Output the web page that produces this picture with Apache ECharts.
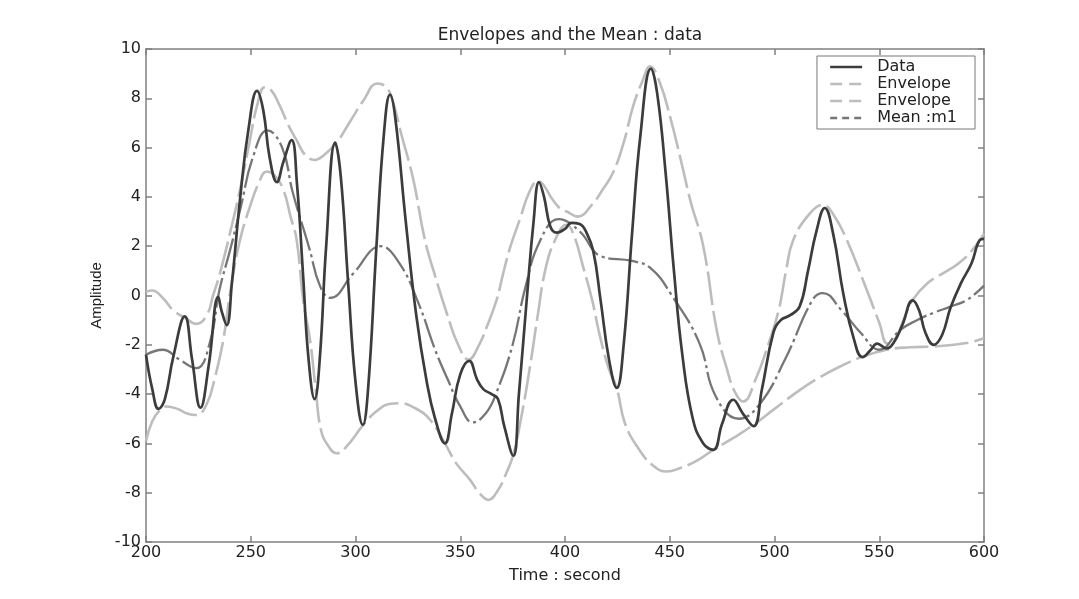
<!DOCTYPE html>
<html>
<head>
<meta charset="utf-8">
<script src="https://cdn.jsdelivr.net/npm/echarts@6/dist/echarts.min.js"></script>
<style>
  html, body { margin: 0; padding: 0; background: #fff; }
  #chart { width: 1079px; height: 599px; }
</style>
</head>
<body>
<div id="chart"></div>
<script>
// time (s) and amplitude
const dataT = [200, 203, 206, 209, 213, 218.5, 222, 226, 230, 234.5, 236, 238.5, 241, 245, 249, 253, 256, 259, 262.5, 265.5, 269.5, 272, 275, 277.5, 280.5, 283, 286, 290.3, 293, 296.5, 300, 303.5, 306, 310, 313.5, 316.5, 319, 324, 329, 334, 338, 342.7, 346, 350, 354.3, 358, 361, 365, 368, 371, 375.3, 378, 381.7, 385, 387.6, 390, 393, 396, 400, 403, 407, 410, 413.5, 417, 421, 424.7, 428, 432, 436, 441, 444, 448, 452, 456, 461, 466, 470.8, 475, 480.3, 485, 490, 494, 499.5, 503, 507.5, 512, 516, 520, 524, 528, 533, 538, 542, 546, 549, 553.5, 557, 561, 566, 569, 572, 576, 580, 584, 589, 594, 598, 600];
const dataV = [-2.4, -3.8, -4.6, -4.2, -2.5, -0.85, -2.6, -4.55, -2.8, -0.05, -0.6, -1.2, 0.5, 4.0, 6.8, 8.3, 7.5, 5.6, 4.6, 5.4, 6.3, 4.6, 0.8, -2.5, -4.2, -2.5, 2.0, 6.2, 4.8, 0.5, -3.5, -5.25, -3.8, 2.0, 6.5, 8.15, 7.2, 3.0, -0.8, -3.5, -5.0, -6.0, -4.8, -3.2, -2.65, -3.4, -3.8, -4.0, -4.2, -5.3, -6.5, -4.0, -0.2, 3.0, 4.6, 4.0, 2.8, 2.55, 2.7, 2.95, 2.9, 2.6, 1.8, -0.2, -2.6, -3.75, -2.0, 2.5, 6.5, 9.2, 8.2, 5.0, 1.0, -2.4, -5.0, -6.0, -6.26, -5.2, -4.23, -4.8, -5.3, -3.8, -1.5, -1.0, -0.8, -0.45, 1.0, 2.6, 3.55, 2.5, 0.0, -1.8, -2.5, -2.2, -1.95, -2.15, -1.9, -1.2, -0.2, -0.6, -1.5, -2.0, -1.6, -0.5, 0.5, 1.3, 2.25, 2.3];

const upperT = [200, 203, 208, 213, 218.5, 224, 229, 232, 235.3, 240, 244.9, 249.6, 253, 256.7, 260, 264, 268, 271.9, 276, 280.5, 285, 291, 297, 303.7, 310.5, 314, 317, 322, 327.6, 333, 338, 343.5, 349, 354, 359, 363, 367.4, 370.5, 374, 378.5, 383, 387.3, 390, 394, 398, 401, 406, 413, 418, 423, 428, 432.6, 437, 440.6, 445.4, 450, 455, 460, 466, 472.4, 477, 481, 485, 491, 497, 502, 505.5, 509, 517, 523, 528, 534.5, 544, 550, 554, 558, 562, 566, 573, 580.6, 587, 593, 600];
const upperV = [0.15, 0.2, -0.1, -0.6, -0.9, -1.15, -0.8, 0, 0.9, 2.5, 4.3, 6.3, 7.7, 8.45, 8.3, 7.67, 6.9, 6.3, 5.7, 5.5, 5.7, 6.2, 7.0, 7.9, 8.6, 8.5, 8.1, 6.5, 4.7, 2.3, 0.8, -0.7, -2.0, -2.6, -2.0, -1.2, -0.17, 0.9, 2.0, 3.1, 4.2, 4.65, 4.45, 3.9, 3.5, 3.4, 3.2, 3.7, 4.3, 5.0, 6.2, 7.7, 8.7, 9.3, 8.6, 7.3, 5.6, 3.8, 2.0, -1.4, -2.9, -3.9, -4.3, -3.4, -2.0, -0.6, 1.0, 2.26, 3.34, 3.68, 3.3, 2.26, 0.23, -1.1, -1.95, -1.7, -0.9, -0.17, 0.5, 0.91, 1.25, 1.7, 2.5];

const lowerT = [200, 203, 206.7, 210, 215, 220, 224, 229, 233, 236.9, 240.5, 244.9, 249.6, 254, 257.6, 261, 265.5, 269, 271.9, 275, 278.3, 281, 283.5, 287, 291, 296, 303.7, 310, 316, 321, 328, 335.6, 342.7, 348, 354.7, 359, 363.4, 368, 372, 375.3, 379, 383.3, 387, 390.5, 395, 400.8, 404, 408.6, 413, 416.7, 421, 424.7, 428.6, 435, 442, 448.5, 455, 463, 470.8, 480, 489.9, 500, 512.2, 522, 531.3, 542.4, 553.6, 565, 575.8, 591.7, 600];
const lowerV = [-5.9, -5.1, -4.64, -4.5, -4.6, -4.8, -4.85, -4.4, -3.3, -1.8, 0.3, 2.26, 3.6, 4.6, 5.03, 4.9, 4.3, 3.2, 2.26, -0.17, -1.8, -3.8, -5.45, -6.1, -6.4, -6.1, -5.25, -4.7, -4.4, -4.37, -4.55, -5.04, -6.0, -6.8, -7.48, -8.0, -8.29, -7.9, -7.2, -6.47, -5.0, -2.88, -0.8, 1.0, 2.2, 2.87, 2.5, 1.18, -0.2, -1.66, -3.0, -3.76, -5.18, -6.2, -6.9, -7.14, -7.0, -6.7, -6.26, -5.8, -5.25, -4.6, -3.83, -3.3, -2.88, -2.47, -2.2, -2.1, -2.07, -1.93, -1.73];

const meanT = [200, 208, 216, 224, 230.5, 235, 240, 245, 251, 258, 265, 270, 278, 283, 288, 299, 312, 321, 330, 338, 344, 350, 356, 362, 367, 375, 381, 388, 397, 407, 417, 432, 441, 451, 464, 472, 483, 493, 505, 518, 523, 532, 541, 550, 560, 568, 576, 584, 592, 600];
const meanV = [-2.4, -2.2, -2.6, -2.95, -1.9, 0.2, 1.8, 3.5, 5.6, 6.7, 6.0, 4.2, 1.9, 0.4, -0.1, 0.9, 2.0, 1.3, -0.3, -2.2, -3.4, -4.5, -5.15, -4.8, -4.0, -2.0, 0.3, 2.2, 3.1, 2.6, 1.6, 1.4, 1.1, 0.0, -1.9, -4.1, -5.0, -4.4, -2.6, -0.2, 0.1, -0.6, -1.5, -2.2, -1.4, -1.0, -0.7, -0.45, -0.17, 0.4];

function pairs(ts, vs) {
  return ts.map((t, i) => [t, vs[i]]);
}

const chart = echarts.init(document.getElementById('chart'));
const font = 'DejaVu Sans, Liberation Sans, sans-serif';
const axisGray = '#808080';
const dataColor = '#3c3c3c';
const envColor = '#bdbdbd';
const meanColor = '#767676';

const tickAxis = {
  axisLine: { show: true, onZero: false, lineStyle: { color: axisGray, width: 1.5 } },
  axisTick: { show: true, inside: true, length: 6, lineStyle: { color: axisGray, width: 1.5 } },
  splitLine: { show: false }
};

const option = {
  backgroundColor: '#ffffff',
  animation: false,
  title: {
    text: 'Envelopes and the Mean : data',
    left: 565,
    top: 22,
    textAlign: 'center',
    textStyle: { fontFamily: font, fontSize: 17, fontWeight: 'normal', color: '#222' }
  },
  grid: { left: 146, right: 95, top: 49, bottom: 57 },
  legend: {
    right: 104,
    top: 56,
    orient: 'vertical',
    backgroundColor: '#fff',
    borderColor: '#777',
    borderWidth: 1,
    borderRadius: 0,
    padding: [3, 18, 3, 12],
    itemGap: 1,
    itemWidth: 32,
    itemHeight: 16,
    textStyle: { fontFamily: font, fontSize: 16, color: '#222', padding: [0, 0, 0, 10] },
    data: [
      { name: 'Data', itemStyle: { opacity: 0 }, lineStyle: { color: dataColor, width: 2.4, type: 'solid' } },
      { name: 'Envelope', itemStyle: { opacity: 0 }, lineStyle: { color: envColor, width: 2.4, type: [12, 7] } },
      { name: 'Envelope ', itemStyle: { opacity: 0 }, lineStyle: { color: envColor, width: 2.4, type: [12, 7] } },
      { name: 'Mean :m1', itemStyle: { opacity: 0 }, lineStyle: { color: meanColor, width: 2.4, type: [7, 5] } }
    ]
  },
  xAxis: [Object.assign({
    type: 'value',
    min: 200,
    max: 600,
    interval: 50,
    name: 'Time : second',
    nameLocation: 'middle',
    nameGap: 26,
    nameTextStyle: { fontFamily: font, fontSize: 16, color: '#222' },
    axisLabel: { fontFamily: font, fontSize: 16, color: '#222', margin: 3 }
  }, tickAxis), Object.assign({
    type: 'value',
    position: 'top',
    min: 200,
    max: 600,
    interval: 50,
    axisLabel: { show: false }
  }, tickAxis)],
  yAxis: [Object.assign({
    type: 'value',
    min: -10,
    max: 10,
    interval: 2,
    name: 'Amplitude',
    nameLocation: 'middle',
    nameGap: 42,
    nameRotate: 90,
    nameTextStyle: { fontFamily: 'Liberation Sans, Arial, sans-serif', fontSize: 15, color: '#222' },
    axisLabel: { fontFamily: font, fontSize: 16, color: '#222', margin: 5 }
  }, tickAxis), Object.assign({
    type: 'value',
    position: 'right',
    min: -10,
    max: 10,
    interval: 2,
    axisLabel: { show: false }
  }, tickAxis)],
  series: [
    {
      name: 'Data', type: 'line', smooth: 0.45, symbol: 'none', z: 4,
      data: pairs(dataT, dataV),
      itemStyle: { color: dataColor },
      lineStyle: { color: dataColor, width: 2.7 }
    },
    {
      name: 'Envelope', type: 'line', smooth: 0.45, symbol: 'none', z: 3,
      data: pairs(upperT, upperV),
      itemStyle: { color: envColor },
      lineStyle: { color: envColor, width: 2.6, type: [34, 6] }
    },
    {
      name: 'Envelope ', type: 'line', smooth: 0.45, symbol: 'none', z: 3,
      data: pairs(lowerT, lowerV),
      itemStyle: { color: envColor },
      lineStyle: { color: envColor, width: 2.6, type: [34, 6] }
    },
    {
      name: 'Mean :m1', type: 'line', smooth: 0.45, symbol: 'none', z: 3,
      data: pairs(meanT, meanV),
      itemStyle: { color: meanColor },
      lineStyle: { color: meanColor, width: 2.3, type: [30, 4, 3, 4] }
    }
  ]
};
chart.setOption(option);
</script>
</body>
</html>
